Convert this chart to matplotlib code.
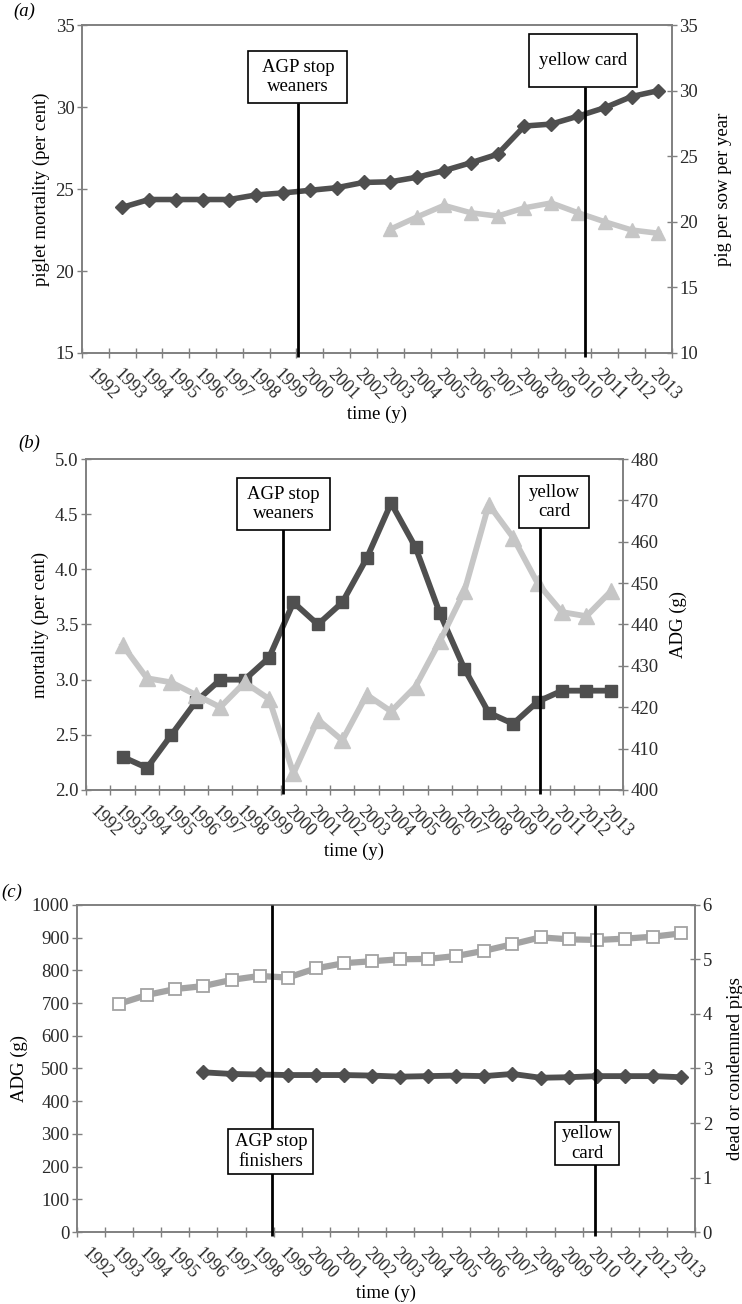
import numpy as np
import matplotlib
matplotlib.use('Agg')
import matplotlib.pyplot as plt
from matplotlib.patches import Rectangle
from matplotlib.transforms import blended_transform_factory

plt.rcParams['font.family'] = ['Liberation Serif', 'DejaVu Serif']

DARK = '#4f4f4f'
LIGHT = '#c6c6c6'
MID = '#a3a3a3'
SPINE = '#808080'

years = list(range(1992, 2014))

# --- panel (a) data ---
a_sow_years = list(range(1993, 2014))
a_pigs_per_sow = [21.1, 21.7, 21.7, 21.7, 21.7, 22.05, 22.2, 22.4, 22.6, 23.0, 23.05,
                  23.4, 23.9, 24.5, 25.15, 27.3, 27.45, 28.05, 28.7, 29.55, 30.0]
a_mort_years = list(range(2003, 2014))
a_piglet_mort = [22.55, 23.3, 24.0, 23.55, 23.35, 23.85, 24.15, 23.55, 23.0, 22.5, 22.3]

# --- panel (b) data ---
b_years = list(range(1993, 2014))
b_mortality = [2.3, 2.2, 2.5, 2.8, 3.0, 3.0, 3.2, 3.7, 3.5, 3.7, 4.1,
               4.6, 4.2, 3.6, 3.1, 2.7, 2.6, 2.8, 2.9, 2.9, 2.9]
b_adg = [435, 427, 426, 423, 420, 426, 422, 404, 417, 412, 423,
         419, 425, 436, 448, 469, 461, 450, 443, 442, 448]

# --- panel (c) data ---
c_years = list(range(1993, 2014))
c_adg = [698, 725, 743, 752, 771, 783, 778, 806, 822, 828, 834,
         835, 844, 860, 880, 901, 895, 893, 897, 903, 913]
c_dead_years = list(range(1996, 2014))
c_dead = [2.93, 2.90, 2.89, 2.88, 2.88, 2.88, 2.87, 2.85, 2.86, 2.87,
          2.86, 2.90, 2.83, 2.84, 2.86, 2.86, 2.86, 2.84]

# event markers: (line x, box centre x, box width, box bottom, box top, text, line top)
a_events = [(1999.55, 1999.55, 3.7, 0.762, 0.921, 'AGP stop\nweaners', 0.762),
            (2010.25, 2010.2, 4.03, 0.811, 0.973, 'yellow card', 0.811)]
b_events = [(1999.59, 1999.6, 3.81, 0.785, 0.943, 'AGP stop\nweaners', 0.80),
            (2010.08, 2010.69, 2.87, 0.792, 0.949, 'yellow\ncard', 0.80)]
c_events = [(1998.45, 1998.4, 3.03, 0.177, 0.315, 'AGP stop\nfinishers', 1.0),
            (2009.94, 2009.66, 2.28, 0.205, 0.336, 'yellow\ncard', 1.0)]

FS = 13.5


def style_axes(ax, ax2):
    for a in (ax, ax2):
        for s in a.spines.values():
            s.set_color(SPINE)
            s.set_linewidth(1.2)
        a.tick_params(axis='y', direction='inout', length=7, width=1, color=SPINE,
                      labelsize=FS, labelcolor='#2a2a2a', pad=2)
    ax.set_xlim(1991.5, 2013.5)
    ax.set_xticks(years)
    ax.set_xticklabels([str(y) for y in years], rotation=-45, ha='left', va='top',
                       rotation_mode='anchor', fontsize=13, color='#2a2a2a')
    ax.set_xticks(np.arange(1991.5, 2014, 1.0), minor=True)
    ax.tick_params(axis='x', which='major', length=0, pad=9)
    ax.tick_params(axis='x', which='minor', direction='inout', length=7, width=1, color=SPINE)
    ax.set_xlabel('time (y)', fontsize=FS, labelpad=2)


def draw_events(ax, events):
    trans = blended_transform_factory(ax.transData, ax.transAxes)
    for xl, xb, w, y0, y1, txt, ltop in events:
        ax.plot([xl, xl], [-0.012, ltop], color='black', lw=2, transform=trans,
                zorder=5, clip_on=False, solid_capstyle='butt')
        ax.add_patch(Rectangle((xb - w / 2, y0), w, y1 - y0, transform=trans,
                               facecolor='white', edgecolor='black', lw=1.2, zorder=6))
        ax.text(xb, (y0 + y1) / 2, txt, transform=trans, ha='center', va='center',
                fontsize=13.5, zorder=7, linespacing=1.2)


fig = plt.figure(figsize=(7.42, 13.04), dpi=100)

# (a)
ax = fig.add_axes([0.1105, 0.7293, 0.795, 0.2515])
ax2 = ax.twinx()
ax.plot(a_mort_years, a_piglet_mort, color=LIGHT, lw=4, marker='^', ms=10, zorder=3)
ax2.plot(a_sow_years, a_pigs_per_sow, color=DARK, lw=4, marker='D', ms=7, zorder=3)
ax.set_ylim(15, 35)
ax.set_yticks([15, 20, 25, 30, 35])
ax2.set_ylim(10, 35)
ax2.set_yticks([10, 15, 20, 25, 30, 35])
ax.set_ylabel('piglet mortality (per cent)', fontsize=FS, labelpad=4)
ax2.set_ylabel('pig per sow per year', fontsize=FS, labelpad=12)
style_axes(ax, ax2)
draw_events(ax2, a_events)
fig.text(0.018, 0.991, '(a)', style='italic', fontsize=FS, va='center')

# (b)
ax = fig.add_axes([0.1159, 0.3942, 0.7237, 0.2538])
ax2 = ax.twinx()
ax.plot(b_years, b_mortality, color=DARK, lw=4.2, marker='s', ms=8, zorder=3)
ax2.plot(b_years, b_adg, color=LIGHT, lw=4.2, marker='^', ms=11, zorder=3)
ax.set_ylim(2.0, 5.0)
ax.set_yticks(np.arange(2.0, 5.01, 0.5))
ax.yaxis.set_major_formatter(plt.FormatStrFormatter('%.1f'))
ax2.set_ylim(400, 480)
ax2.set_yticks(range(400, 481, 10))
ax.set_ylabel('mortality (per cent)', fontsize=FS, labelpad=4)
ax2.set_ylabel('ADG (g)', fontsize=FS, labelpad=8)
style_axes(ax, ax2)
draw_events(ax2, b_events)
fig.text(0.025, 0.66, '(b)', style='italic', fontsize=FS, va='center')

# (c)
ax = fig.add_axes([0.1038, 0.0552, 0.8329, 0.2508])
ax2 = ax.twinx()
ax.plot(c_years, c_adg, color=MID, lw=4.5, marker='s', ms=9, mfc='white',
        mec=MID, mew=1.3, zorder=3)
ax2.plot(c_dead_years, c_dead, color=DARK, lw=4.2, marker='D', ms=7, zorder=3)
ax.set_ylim(0, 1000)
ax.set_yticks(range(0, 1001, 100))
ax2.set_ylim(0, 6)
ax2.set_yticks(range(0, 7))
ax.set_ylabel('ADG (g)', fontsize=FS, labelpad=3)
ax2.set_ylabel('dead or condemned pigs', fontsize=FS, labelpad=11)
style_axes(ax, ax2)
draw_events(ax2, c_events)
fig.text(0.002, 0.316, '(c)', style='italic', fontsize=FS, va='center')

fig.savefig('out.png', dpi=100)
